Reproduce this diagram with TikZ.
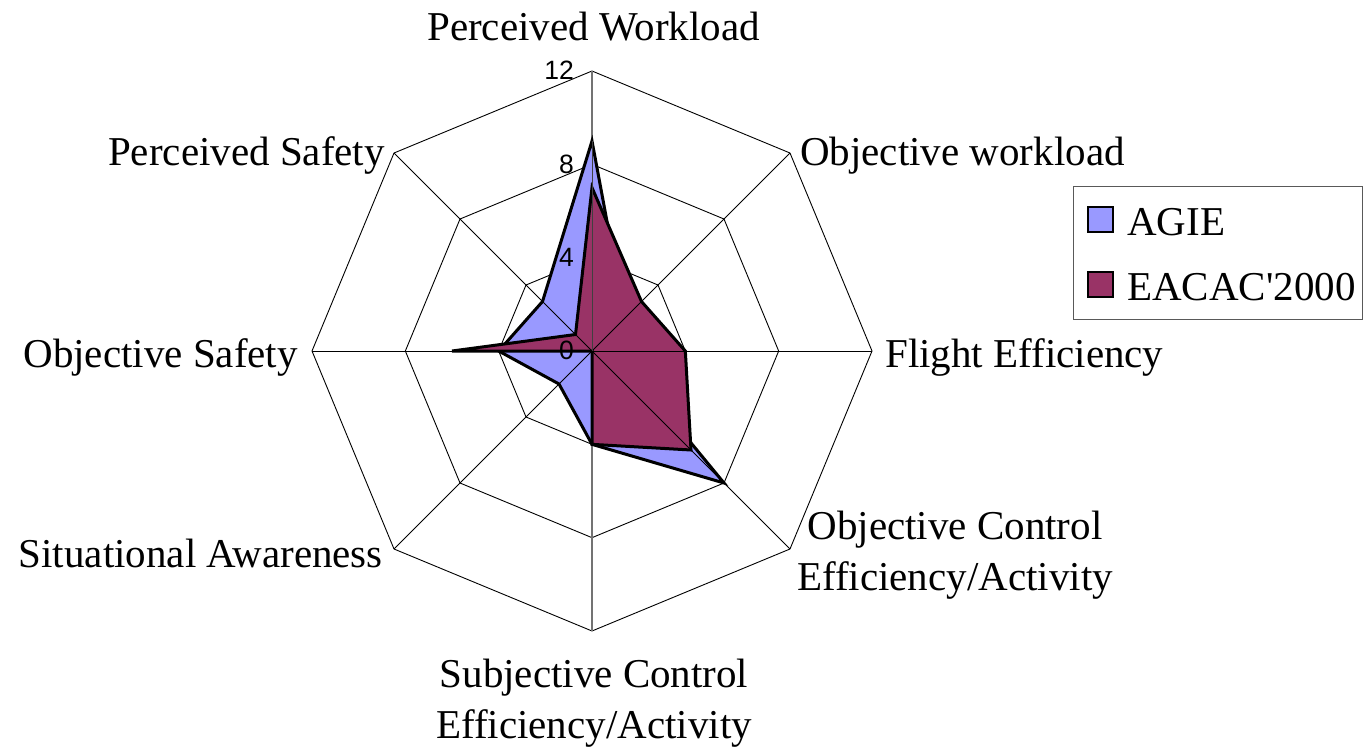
\documentclass[tikz,border=0pt]{standalone}
\usepackage{fontspec}
\newfontfamily\tnr{Liberation Serif}
\newfontfamily\arl{Liberation Sans}
\usetikzlibrary{calc}
\definecolor{agie}{HTML}{9999FF}
\definecolor{eacac}{HTML}{993366}
\begin{document}
\begin{tikzpicture}[x=1pt,y=-1pt,
  gridline/.style={line width=0.9pt, black},
  vaxis/.style={line width=1.3pt, black!55},
  series/.style={line width=3pt, line join=miter, draw=black},
  lab/.style={font=\tnr\fontsize{41}{49}\selectfont, inner sep=0pt},
  ticklab/.style={font=\arl\fontsize{26.5}{30}\selectfont, inner sep=0pt, anchor=east},
  swatch/.style={line width=2pt, draw=black},
]
\useasboundingbox (0,0) rectangle (1372,755);
\def\u{23.3333}
\coordinate (C) at (592,351);
\begin{scope}[shift={(C)}]
  % rings
  \foreach \v in {4,8,12} {
    \draw[gridline] (-90:\v*\u) \foreach \k in {1,...,7} { -- (-90+45*\k:\v*\u) } -- cycle;
  }
  % value axis (under the series)
  \draw[vaxis] (90:12*\u) -- (-90:12*\u);
  % AGIE
  \coordinate (a0) at (-90:9*\u);
  \coordinate (a1) at (-45:2*\u);
  \coordinate (a2) at (0:1*\u);
  \coordinate (a3) at (45:8*\u);
  \coordinate (a4) at (90:4*\u);
  \coordinate (a5) at (135:2*\u);
  \coordinate (a6) at (180:4*\u);
  \coordinate (a7) at (225:3*\u);
  \draw[series, fill=agie] (a0) -- (a1) -- (a2) -- (a3) -- (a4) -- (a5) -- (a6) -- (a7) -- cycle;
  % EACAC'2000
  \coordinate (b0) at (-90:7*\u);
  \coordinate (b1) at (-45:3*\u);
  \coordinate (b2) at (0:4*\u);
  \coordinate (b3) at (45:6*\u);
  \coordinate (b4) at (90:4*\u);
  \coordinate (b5) at (0,0);
  \coordinate (b6) at (180:6*\u);
  \coordinate (b7) at (225:1*\u);
  \draw[series, fill=eacac] (b0) -- (b1) -- (b2) -- (b3) -- (b4) -- (b5) -- (b6) -- (b7) -- cycle;
  % spokes
  \foreach \k in {1,2,3,5,6,7} {
    \draw[gridline] (0,0) -- (-90+45*\k:12*\u);
  }
  \draw[line width=0.9pt, black!75] (0,0) -- (a0);
\end{scope}
% tick labels
\node[ticklab] (t0) at (574,350) {0};
\node[ticklab] (t4) at (574,257.7) {4};
\node[ticklab] (t8) at (574,164.3) {8};
\node[ticklab] (t12) at (574,70) {12};
% category labels
\node[lab, anchor=base] (pw) at (593.5,40) {Perceived Workload};
\node[lab, anchor=base west] (ow) at (800,165) {Objective workload};
\node[lab, anchor=base west] (fe) at (885,367) {Flight Efficiency};
\node[lab, anchor=base] (oce1) at (955,539) {Objective Control};
\node[lab, anchor=base] (oce2) at (955,590) {Efficiency/Activity};
\node[lab, anchor=base] (sce1) at (594,687) {Subjective Control};
\node[lab, anchor=base] (sce2) at (594,738) {Efficiency/Activity};
\node[lab, anchor=base east] (sa) at (383,567) {Situational Awareness};
\node[lab, anchor=base east] (os) at (298,367) {Objective Safety};
\node[lab, anchor=base east] (ps) at (385,165) {Perceived Safety};
% legend
\draw[line width=1pt, black!65] (1073,186) rectangle (1362,319);
\draw[swatch, fill=agie] (1088,207) rectangle (1113,232);
\draw[swatch, fill=eacac] (1088,272) rectangle (1113,297);
\node[lab, anchor=base west] (la) at (1127,235) {AGIE};
\node[lab, anchor=base west] (le) at (1127,300) {EACAC'2000};
\end{tikzpicture}
\end{document}
